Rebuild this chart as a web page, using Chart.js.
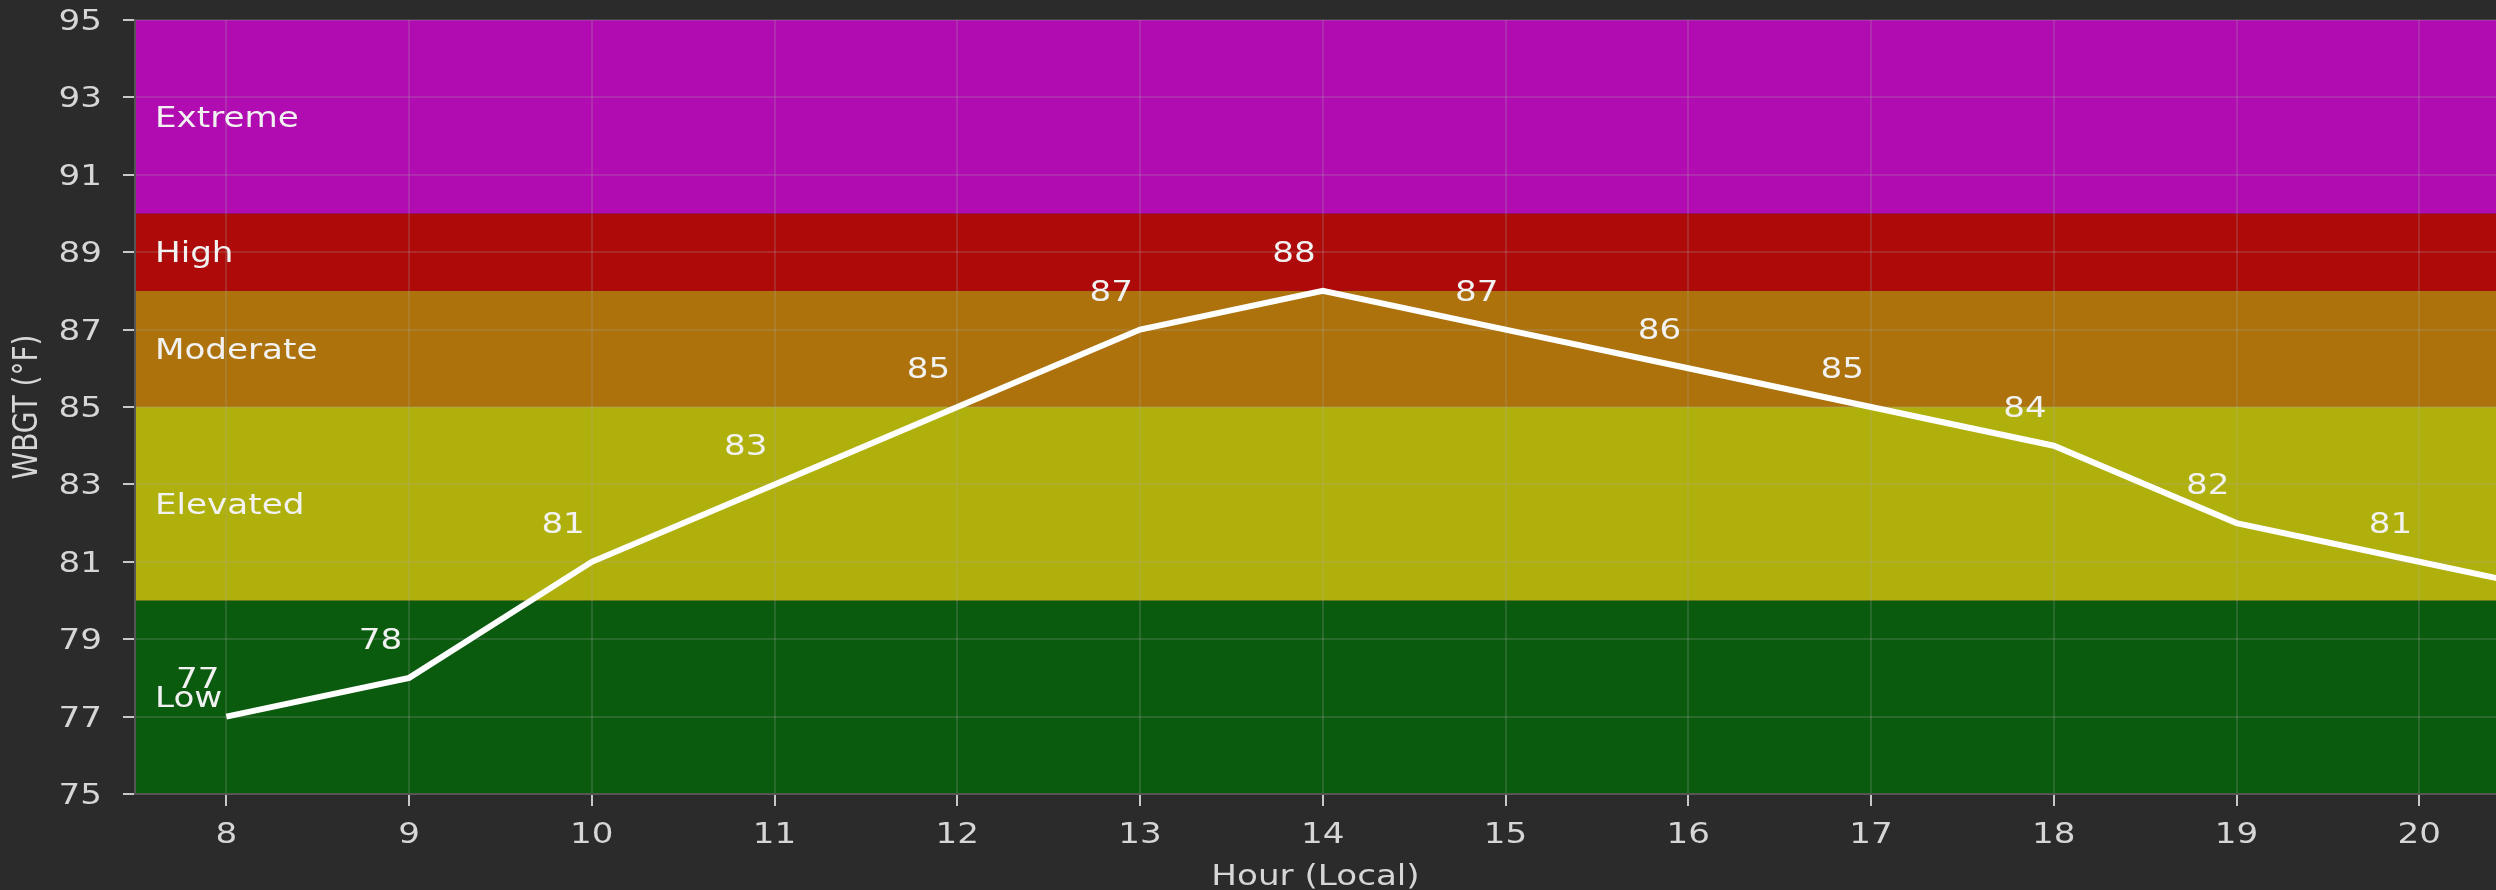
<!DOCTYPE html>
<html>
<head>
<meta charset="utf-8">
<script src="https://cdn.jsdelivr.net/npm/chart.js@4"></script>
<style>
  html, body { margin: 0; padding: 0; background: #2b2b2b; }
  #wrap { width: 2496px; height: 890px; }
</style>
</head>
<body>
<div id="wrap"><canvas id="wbgtChart" width="2496" height="890"></canvas></div>
<script>
// data
const hours = [8, 9, 10, 11, 12, 13, 14, 15, 16, 17, 18, 19, 20, 21];
const wbgt = [77, 78, 81, 83, 85, 87, 88, 87, 86, 85, 84, 82, 81, 80];
const xTicks = [8, 9, 10, 11, 12, 13, 14, 15, 16, 17, 18, 19, 20];
const yTicks = [75, 77, 79, 81, 83, 85, 87, 89, 91, 93, 95];

// risk bands
const bandNames = ['Low', 'Elevated', 'Moderate', 'High', 'Extreme'];
const bandFrom = [75, 80, 85, 88, 90];
const bandTo = [80, 85, 88, 90, 95];
const bandColors = ['#0b5b0e', '#b0b00c', '#ad720c', '#ae0a0a', '#b10cb1'];

const FONT = '28px "DejaVu Sans"';
const STRETCH = 1.22;   // the source text is drawn a bit wide
const TICK_COLOR = '#d6d6d6';
const LABEL_COLOR = '#f2f2f2';

// text drawn wider than the font, like in the reference
function wideText(ctx, text, x, y, align, color, rotated) {
    ctx.save();
    ctx.font = FONT;
    ctx.fillStyle = color;
    ctx.textAlign = align;
    ctx.textBaseline = 'alphabetic';
    ctx.translate(x, y);
    if (rotated) {
        ctx.rotate(-Math.PI / 2);
        ctx.scale(1, STRETCH);
    } else {
        ctx.scale(STRETCH, 1);
    }
    ctx.fillText(text, 0, 0);
    ctx.restore();
}

const bandsPlugin = {
    id: 'bands',
    beforeDraw(chart) {
        const ctx = chart.ctx;
        const area = chart.chartArea;
        const y = chart.scales.y;
        ctx.save();
        ctx.fillStyle = '#2b2b2b';
        ctx.fillRect(0, 0, chart.width, chart.height);
        for (let i = 0; i < bandNames.length; i++) {
            const top = y.getPixelForValue(bandTo[i]);
            const bot = y.getPixelForValue(bandFrom[i]);
            ctx.fillStyle = bandColors[i];
            ctx.fillRect(area.left, top, area.right - area.left, bot - top);
        }
        ctx.restore();
    },
    beforeDatasetsDraw(chart) {
        const ctx = chart.ctx;
        const area = chart.chartArea;
        const y = chart.scales.y;
        for (let i = 0; i < bandNames.length; i++) {
            const mid = (bandFrom[i] + bandTo[i]) / 2;
            wideText(ctx, bandNames[i], area.left + 20, y.getPixelForValue(mid) + 10, 'left', LABEL_COLOR);
        }
    },
    afterDatasetsDraw(chart) {
        const ctx = chart.ctx;
        const area = chart.chartArea;
        const x = chart.scales.x;
        const y = chart.scales.y;

        // point labels
        ctx.save();
        ctx.beginPath();
        ctx.rect(area.left, area.top, area.right - area.left, area.bottom - area.top);
        ctx.clip();
        for (let i = 0; i < hours.length; i++) {
            const px = x.getPixelForValue(hours[i]);
            const py = y.getPixelForValue(wbgt[i]);
            wideText(ctx, String(wbgt[i]), px - 7, py - 29, 'right', LABEL_COLOR);
        }
        ctx.restore();

        // tick labels
        xTicks.forEach(v => wideText(ctx, String(v), x.getPixelForValue(v), 843, 'center', TICK_COLOR));
        yTicks.forEach(v => wideText(ctx, String(v), 102, y.getPixelForValue(v) + 10, 'right', TICK_COLOR));

        // axis titles
        wideText(ctx, 'Hour (Local)', (area.left + area.right) / 2, 885, 'center', TICK_COLOR);
        wideText(ctx, 'WBGT (°F)', 37, (area.top + area.bottom) / 2, 'center', TICK_COLOR, true);
    }
};

new Chart(document.getElementById('wbgtChart').getContext('2d'), {
    type: 'line',
    data: {
        datasets: [{
            label: 'WBGT',
            data: hours.map((h, i) => ({ x: h, y: wbgt[i] })),
            borderColor: '#ffffff',
            borderWidth: 6,
            pointRadius: 0,
            tension: 0,
            clip: 0
        }]
    },
    options: {
        responsive: false,
        animation: false,
        devicePixelRatio: 1,
        layout: { padding: { top: 20, right: 0, left: 0, bottom: 0 } },
        plugins: { legend: { display: false }, tooltip: { enabled: false } },
        scales: {
            x: {
                type: 'linear',
                min: 7.5,
                max: 20.42,
                afterBuildTicks: (s) => { s.ticks = xTicks.map(v => ({ value: v })); },
                afterFit: (s) => { s.height = 96; s.paddingLeft = 0; s.paddingRight = 0; },
                grid: { color: 'rgba(170,170,170,0.2)', lineWidth: 2, tickColor: '#c8c8c8', tickLength: 12, tickWidth: 2 },
                border: { color: '#555555', width: 2 },
                ticks: { display: false }
            },
            y: {
                type: 'linear',
                min: 75,
                max: 95,
                afterBuildTicks: (s) => { s.ticks = yTicks.map(v => ({ value: v })); },
                afterFit: (s) => { s.width = 135; s.paddingTop = 0; s.paddingBottom = 0; },
                grid: { color: 'rgba(170,170,170,0.2)', lineWidth: 2, tickColor: '#c8c8c8', tickLength: 12, tickWidth: 2 },
                border: { color: '#555555', width: 2 },
                ticks: { display: false }
            }
        }
    },
    plugins: [bandsPlugin]
});
</script>
</body>
</html>
